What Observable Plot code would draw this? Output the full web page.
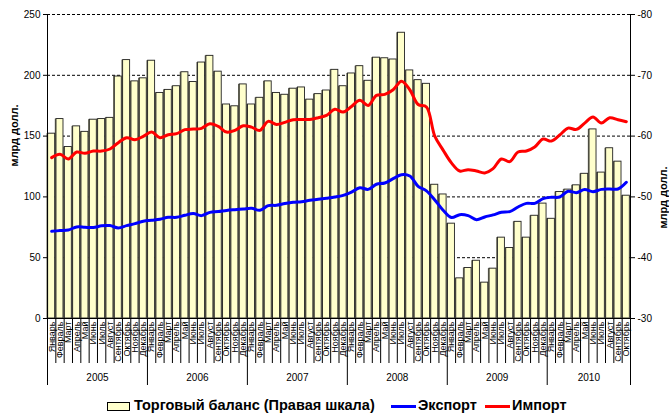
<!DOCTYPE html>
<html>
<head>
<meta charset="utf-8">
<script src="https://cdn.jsdelivr.net/npm/d3@7"></script>
<script src="https://cdn.jsdelivr.net/npm/@observablehq/plot@0.6"></script>
<style>
  body { margin: 0; background: #fff; font-family: "Liberation Sans", Arial, sans-serif; }
  #wrap { position: relative; width: 669px; height: 416px; }
  #legend { position: absolute; left: 0; top: 396px; width: 669px; height: 20px; font-weight: bold; font-size: 14.5px; color: #000; }
  #legend span { position: absolute; top: 1px; white-space: nowrap; }
  .sw { position: absolute; }
</style>
</head>
<body>
<div id="wrap">
  <div id="chart"></div>
  <div id="legend"></div>
</div>
<script>
const monthNames = ["Январь","Февраль","Март","Апрель","Май","Июнь","Июль","Август","Сентябрь","Октябрь","Ноябрь","Декабрь"];
const years = [2005, 2006, 2007, 2008, 2009, 2010];
const monthsPerYear = [12, 12, 12, 12, 12, 10];

// Trade balance, bn USD (right scale, inverted)
const balance = [
  -60.4, -62.8, -58.2, -61.6, -60.7, -62.7, -62.8, -63.0, -69.8, -72.5, -69.0, -69.5,
  -72.4, -67.1, -67.6, -68.2, -70.5, -68.9, -72.1, -73.2, -70.6, -65.2, -64.9, -68.5,
  -65.2, -66.3, -69.0, -67.1, -66.8, -67.8, -68.0, -66.0, -66.9, -67.5, -70.9, -68.2,
  -70.3, -71.5, -69.1, -72.9, -72.8, -72.6, -77.0, -70.8, -69.2, -68.6, -52.0, -50.4,
  -45.6, -36.6, -38.3, -39.5, -35.9, -38.2, -43.3, -41.6, -45.9, -43.3, -46.9, -48.9,
  -46.4, -50.8, -51.2, -51.9, -53.8, -61.1, -54.0, -58.0, -55.8, -50.2
];
// Export, bn USD (left scale)
const exportVals = [
  71.7, 72.3, 72.8, 75.3, 75.0, 74.8, 76.2, 76.4, 74.5, 76.4, 78.0, 80.0,
  80.8, 81.6, 83.2, 83.2, 84.9, 86.3, 84.6, 87.3, 87.9, 88.9, 89.5, 90.0,
  90.6, 89.0, 92.8, 93.1, 94.5, 95.6, 96.1, 97.2, 98.0, 98.9, 99.9, 101.3,
  104.0, 107.6, 106.2, 110.4, 111.4, 115.0, 118.3, 117.2, 108.7, 104.9, 97.5, 89.0,
  83.0, 85.4, 84.6, 81.3, 83.5, 85.2, 87.3, 87.9, 91.7, 94.7, 94.7, 98.6,
  99.7, 99.9, 104.6, 103.5, 106.0, 104.3, 106.2, 106.5, 106.5, 112.0
];
// Import, bn USD (left scale)
const importVals = [
  132.3, 135.0, 131.2, 136.9, 135.8, 137.7, 137.7, 139.4, 144.6, 148.7, 147.0, 149.8,
  153.3, 148.7, 151.1, 152.0, 155.3, 155.8, 156.4, 160.2, 158.0, 153.3, 154.7, 158.5,
  157.4, 154.7, 162.1, 159.6, 161.3, 163.5, 163.7, 163.7, 165.1, 167.0, 172.0, 169.8,
  174.4, 179.4, 175.2, 183.5, 184.3, 188.1, 195.2, 188.1, 176.0, 173.9, 150.0, 138.5,
  128.0, 121.3, 122.4, 121.3, 119.7, 123.2, 131.2, 129.0, 136.9, 137.7, 141.0, 147.6,
  145.9, 150.9, 156.6, 155.5, 160.7, 165.7, 160.7, 165.1, 163.5, 161.8
];
const leftTicks = [0, 50, 100, 150, 200, 250];
const gridTicks = [50, 100, 150, 200, 250];

// build rows
const rows = [];
{
  let i = 0;
  years.forEach((y, yi) => {
    for (let m = 0; m < monthsPerYear[yi]; m++) {
      rows.push({i, year: y, month: monthNames[m], bal: balance[i], exp: exportVals[i], imp: importVals[i]});
      i++;
    }
  });
}
const N = rows.length;
// right scale (balance) mapped onto left scale
const rightToLeft = d3.scaleLinear().domain([-30, -80]).range([0, 250]);
const leftToRight = rightToLeft.invert;

const yearInfo = [];
{
  let start = 0;
  years.forEach((y, yi) => { yearInfo.push({year: y, start, end: start + monthsPerYear[yi]}); start += monthsPerYear[yi]; });
}
const yearBounds = [0, ...yearInfo.map(d => d.end)];
const monthBounds = d3.range(0, N + 1).filter(b => !yearBounds.includes(b));

const font = "Liberation Sans, Arial, sans-serif";
const chart = Plot.plot({
  width: 669,
  height: 396,
  marginLeft: 47,
  marginRight: 39,
  marginTop: 14,
  marginBottom: 78,
  style: {fontFamily: font, fontSize: "10px", color: "#000", background: "#fff"},
  x: {type: "linear", domain: [0, N], axis: null},
  y: {domain: [0, 250], axis: null},
  marks: [
    Plot.ruleY(gridTicks, {stroke: "#000", strokeDasharray: "3,2", strokeWidth: 1}),
    // bar shadow
    Plot.rectY(rows, {x1: d => d.i + 0.08, x2: d => d.i + 0.92, y1: 0, y2: d => rightToLeft(d.bal), fill: "#6b6b5a", dx: -1.2}),
    Plot.rectY(rows, {x1: d => d.i + 0.08, x2: d => d.i + 0.92, y1: 0, y2: d => rightToLeft(d.bal), fill: "#ffffcc", stroke: "#222", strokeWidth: 0.9}),
    Plot.line(rows, {x: d => d.i + 0.5, y: "imp", stroke: "#ff0000", strokeWidth: 3, curve: "catmull-rom"}),
    Plot.line(rows, {x: d => d.i + 0.5, y: "exp", stroke: "#0000ff", strokeWidth: 3, curve: "catmull-rom"}),
    Plot.ruleY([0], {stroke: "#000", strokeWidth: 1}),
    Plot.ruleX([0, N], {stroke: "#000", strokeWidth: 1}),
    Plot.axisY(leftTicks, {anchor: "left", tickSize: 4, tickPadding: 3, fontSize: 10, tickFormat: d => d}),
    Plot.axisY(leftTicks, {anchor: "right", tickSize: 4, tickPadding: 3, fontSize: 10, tickFormat: d => leftToRight(d)}),
    // month separators
    Plot.ruleX(monthBounds, {stroke: "#000", strokeWidth: 1, y1: 0, y2: 0, insetBottom: -45}),
    Plot.ruleX(yearBounds, {stroke: "#000", strokeWidth: 1, y1: 0, y2: 0, insetBottom: -67}),
    // month labels
    Plot.text(rows, {x: d => d.i + 0.5, frameAnchor: "bottom", dy: 3, rotate: -90, textAnchor: "end", text: "month", fontSize: 9, lineAnchor: "middle"}),
    // year labels
    Plot.text(yearInfo, {x: d => (d.start + d.end) / 2, frameAnchor: "bottom", dy: 62, text: d => String(d.year), fontSize: 10}),
    // axis titles
    Plot.text(["млрд долл."], {frameAnchor: "left", dx: -33, rotate: -90, fontWeight: "bold", fontSize: 11}),
    Plot.text(["млрд долл."], {frameAnchor: "right", dx: 33, rotate: -90, fontWeight: "bold", fontSize: 11})
  ]
});
document.getElementById("chart").appendChild(chart);

// legend
const legendItems = [
  {label: "Торговый баланс (Правая шкала)", kind: "rect", color: "#ffffcc", swLeft: 107, swWidth: 21, textLeft: 134},
  {label: "Экспорт", kind: "line", color: "#0000ff", swLeft: 391, swWidth: 25, textLeft: 418},
  {label: "Импорт", kind: "line", color: "#ff0000", swLeft: 485, swWidth: 25, textLeft: 512}
];
const legend = document.getElementById("legend");
legendItems.forEach(it => {
  const sw = document.createElement("div");
  sw.className = "sw";
  sw.style.left = it.swLeft + "px";
  sw.style.width = it.swWidth + "px";
  if (it.kind === "rect") {
    sw.style.top = "6px"; sw.style.height = "7px";
    sw.style.background = it.color; sw.style.border = "1px solid #000";
  } else {
    sw.style.top = "9px"; sw.style.height = "3px"; sw.style.background = it.color;
  }
  legend.appendChild(sw);
  const t = document.createElement("span");
  t.style.left = it.textLeft + "px";
  t.textContent = it.label;
  legend.appendChild(t);
});
</script>
</body>
</html>
